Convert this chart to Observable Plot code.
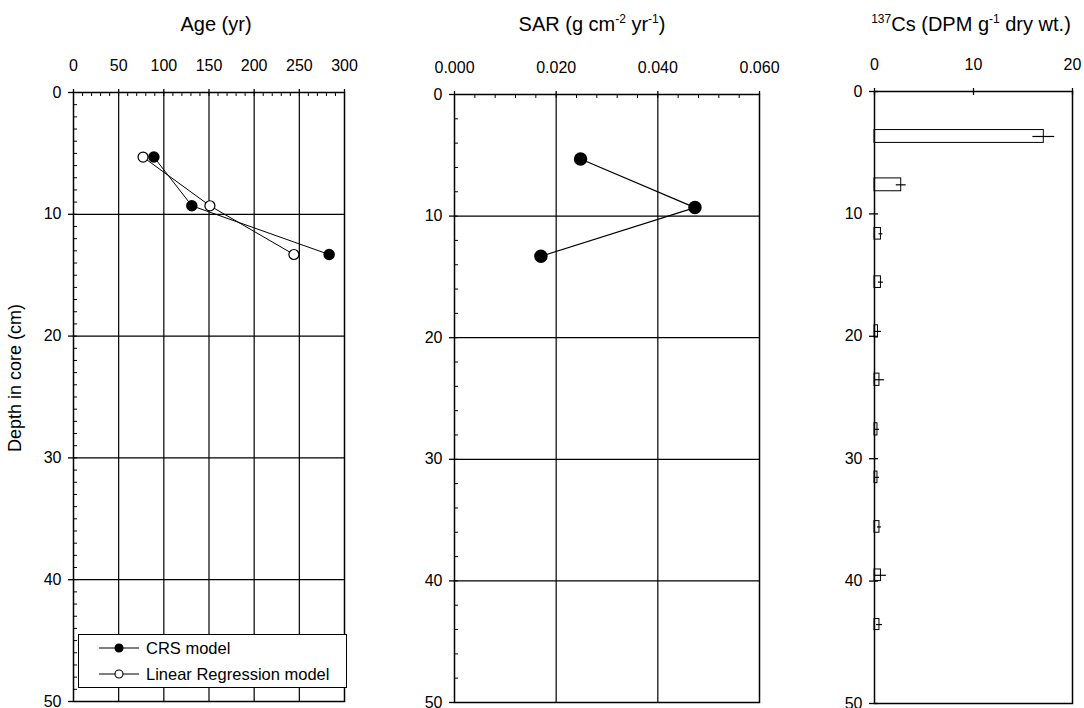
<!DOCTYPE html>
<html>
<head>
<meta charset="utf-8">
<script src="https://cdn.jsdelivr.net/npm/d3@7"></script>
<script src="https://cdn.jsdelivr.net/npm/@observablehq/plot@0.6"></script>
<style>
  body { margin: 0; background: #fff; font-family: "Liberation Sans", Arial, sans-serif; color: #000; }
  #root { position: relative; width: 1084px; height: 708px; overflow: hidden; background: #fff; }
  .panel { position: absolute; top: 0; }
  .title { position: absolute; font-size: 20px; line-height: 1; white-space: nowrap; transform: translateX(-50%); }
  .title sup { font-size: 12px; vertical-align: 8px; line-height: 0; }
  .ylab { position: absolute; font-size: 18px; line-height: 1; white-space: nowrap; transform: translate(-50%, -50%) rotate(-90deg); }
  .legend { position: absolute; border: 1px solid #000; background: #fff; box-sizing: border-box; font-size: 16.5px; }
  .legend .row { position: absolute; left: 0; height: 20px; display: flex; align-items: center; }
  .legend svg { display: block; }
</style>
</head>
<body>
<div id="root">
  <div class="title" style="left:216px; top:14px;">Age (yr)</div>
  <div class="title" style="left:592px; top:14px;">SAR (g cm<sup>-2</sup> yr<sup>-1</sup>)</div>
  <div class="title" style="left:971px; top:14px;"><sup>137</sup>Cs (DPM g<sup>-1</sup> dry wt.)</div>
  <div class="ylab" style="left:15px; top:378px;">Depth in core (cm)</div>
</div>
<script>
// ---------------- data ----------------
const depthModel = [5.3, 9.3, 13.3];           // cm, dated intervals
const ageCRS = [89, 131, 283];                 // yr, CRS model
const ageLinear = [77, 151, 244];              // yr, Linear Regression model
const sarCRS = [0.0248, 0.0473, 0.0170];       // g cm-2 yr-1

const csTop    = [3.15, 7.1, 11.15, 15.1, 19.1, 23.05, 27.1, 31.05, 35.1, 39.05, 43.1];
const csBottom = [4.2, 8.15, 12.1, 16.05, 20.1, 24.05, 28.1, 32.0, 36.05, 40.0, 44.0];
const csValue  = [17.1, 2.7, 0.65, 0.65, 0.35, 0.5, 0.3, 0.3, 0.5, 0.65, 0.5];
const csError  = [1.1, 0.5, 0.2, 0.25, 0.35, 0.5, 0.2, 0.2, 0.2, 0.55, 0.3];

const depthTicks = [0, 10, 20, 30, 40, 50];
const ageTicks = [0, 50, 100, 150, 200, 250, 300];
const sarTicks = [0, 0.02, 0.04, 0.06];
const csTicks = [0, 10, 20];

const legendLabels = ["CRS model", "Linear Regression model"];

// ---------------- helpers ----------------
const FONT = '"Liberation Sans", Arial, sans-serif';
const H = 708;
const root = document.getElementById("root");
const baseStyle = {fontFamily: FONT, fontSize: "16px", color: "black", background: "transparent", overflow: "visible"};
function place(svg, left) {
  svg.classList.add("panel");
  svg.style.left = left + "px";
  root.appendChild(svg);
}
const crsRows = depthModel.map((d, i) => ({depth: d, age: ageCRS[i]}));
const linRows = depthModel.map((d, i) => ({depth: d, age: ageLinear[i]}));
const sarRows = depthModel.map((d, i) => ({depth: d, sar: sarCRS[i]}));
const csRows = csTop.map((t, i) => ({top: t, bottom: csBottom[i], mid: (t + csBottom[i]) / 2, v: csValue[i], lo: csValue[i] - csError[i], hi: csValue[i] + csError[i]}));

// ---------------- panel 1: Age ----------------
{
  const W = 380, mt = 92, mb = 7, ml = 73, mr = 36;
  const iw = W - ml - mr, ih = H - mt - mb;
  const svg = Plot.plot({
    width: W, height: H, marginTop: mt, marginBottom: mb, marginLeft: ml, marginRight: mr,
    style: baseStyle,
    x: {domain: [0, 300]},
    y: {domain: [0, 50], reverse: true},
    marks: [
      Plot.gridX(ageTicks.slice(1, -1), {stroke: "black", strokeOpacity: 1, strokeWidth: 1.2}),
      Plot.gridY(depthTicks.slice(1, -1), {stroke: "black", strokeOpacity: 1, strokeWidth: 1.2}),
      Plot.ruleX(d3.range(10, 300, 10), {x: d => d, insetBottom: ih - 4, stroke: "black"}),
      Plot.ruleY(d3.range(1, 50, 1), {y: d => d, insetRight: iw - 4, stroke: "black"}),
      Plot.frame({stroke: "black", strokeWidth: 1.5}),
      Plot.axisX(ageTicks, {anchor: "top", tickSize: 4, tickPadding: 18, label: null, strokeWidth: 1.3}),
      Plot.axisY(depthTicks, {anchor: "left", tickSize: 5, tickPadding: 7, label: null, strokeWidth: 1.3}),
      Plot.line(crsRows, {x: "age", y: "depth", stroke: "black", strokeWidth: 1}),
      Plot.line(linRows, {x: "age", y: "depth", stroke: "black", strokeWidth: 1}),
      Plot.dot(crsRows, {x: "age", y: "depth", r: 5, fill: "black", stroke: "black"}),
      Plot.dot(linRows, {x: "age", y: "depth", r: 5, fill: "white", stroke: "black", strokeWidth: 1.2})
    ]
  });
  place(svg, 0);
}

// ---------------- panel 2: SAR ----------------
{
  const W = 400, mt = 94, mb = 6, ml = 74, mr = 21;
  const iw = W - ml - mr, ih = H - mt - mb;
  const svg = Plot.plot({
    width: W, height: H, marginTop: mt, marginBottom: mb, marginLeft: ml, marginRight: mr,
    style: baseStyle,
    x: {domain: [0, 0.06]},
    y: {domain: [0, 50], reverse: true},
    marks: [
      Plot.gridX(sarTicks.slice(1, -1), {stroke: "black", strokeOpacity: 1, strokeWidth: 1.2}),
      Plot.gridY(depthTicks.slice(1, -1), {stroke: "black", strokeOpacity: 1, strokeWidth: 1.2}),
      Plot.ruleX(d3.range(1, 15).map(i => i * 0.004), {x: d => d, insetBottom: ih - 4, stroke: "black"}),
      Plot.ruleY(d3.range(2, 50, 2), {y: d => d, insetRight: iw - 4, stroke: "black"}),
      Plot.frame({stroke: "black", strokeWidth: 1.5}),
      Plot.axisX(sarTicks, {anchor: "top", tickSize: 4, tickPadding: 18, label: null, tickFormat: d3.format(".3f"), strokeWidth: 1.3}),
      Plot.axisY(depthTicks, {anchor: "left", tickSize: 5, tickPadding: 7, label: null, strokeWidth: 1.3}),
      Plot.line(sarRows, {x: "sar", y: "depth", stroke: "black", strokeWidth: 1.2}),
      Plot.dot(sarRows, {x: "sar", y: "depth", r: 6, fill: "black", stroke: "black"})
    ]
  });
  place(svg, 380);
}

// ---------------- panel 3: 137Cs ----------------
{
  const W = 304, mt = 91, mb = 5, ml = 94, mr = 12;
  const iw = W - ml - mr, ih = H - mt - mb;
  const svg = Plot.plot({
    width: W, height: H, marginTop: mt, marginBottom: mb, marginLeft: ml, marginRight: mr,
    style: baseStyle,
    x: {domain: [0, 20]},
    y: {domain: [0, 50], reverse: true},
    marks: [
      Plot.rect(csRows, {x1: 0, x2: "v", y1: "top", y2: "bottom", fill: "white", stroke: "black", strokeWidth: 1}),
      Plot.ruleY(csRows, {y: "mid", x1: "lo", x2: "hi", stroke: "black", strokeWidth: 1.2, clip: true}),
      Plot.ruleX(csTicks, {x: d => d, insetBottom: ih - 4, stroke: "black", strokeWidth: 1.3}),
      Plot.ruleY(depthTicks, {y: d => d, insetRight: iw - 4, stroke: "black", strokeWidth: 1.3}),
      Plot.frame({stroke: "black", strokeWidth: 1.5}),
      Plot.axisX(csTicks, {anchor: "top", tickSize: 4, tickPadding: 18, label: null, strokeWidth: 1.3}),
      Plot.axisY(depthTicks, {anchor: "left", tickSize: 5, tickPadding: 7, label: null, strokeWidth: 1.3})
    ]
  });
  place(svg, 780);
}

// ---------------- legend (panel 1) ----------------
{
  const lg = document.createElement("div");
  lg.className = "legend";
  Object.assign(lg.style, {left: "78px", top: "634px", width: "269px", height: "54px"});
  legendLabels.forEach((label, i) => {
    const row = document.createElement("div");
    row.className = "row";
    row.style.top = (3 + i * 26) + "px";
    const s = d3.create("svg").attr("width", 67).attr("height", 20);
    s.append("line").attr("x1", 20).attr("x2", 60).attr("y1", 10).attr("y2", 10).attr("stroke", "black").attr("stroke-width", 1.2);
    s.append("circle").attr("cx", 40).attr("cy", 10).attr("r", 4).attr("fill", i === 0 ? "black" : "white").attr("stroke", "black").attr("stroke-width", 1.1);
    row.appendChild(s.node());
    const t = document.createElement("span");
    t.textContent = label;
    row.appendChild(t);
    lg.appendChild(row);
  });
  root.appendChild(lg);
}
</script>
</body>
</html>
